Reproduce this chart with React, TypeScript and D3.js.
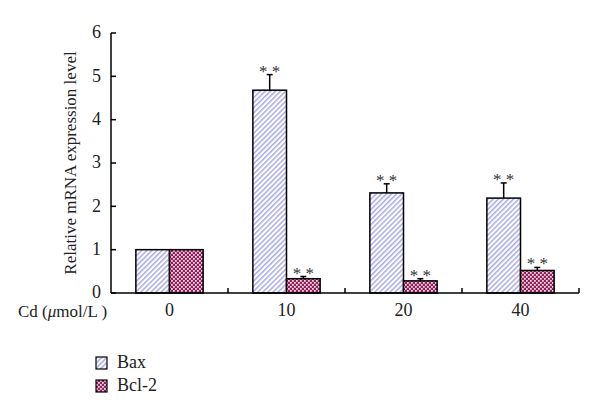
import React from 'react';
import * as d3 from 'd3';

const doses = ['0', '10', '20', '40'];
const series = ['Bax', 'Bcl-2'];
const baxValues = [1.0, 4.68, 2.31, 2.19];
const baxErrors = [0, 0.36, 0.21, 0.35];
const bcl2Values = [1.0, 0.33, 0.28, 0.52];
const bcl2Errors = [0, 0.05, 0.05, 0.07];
const baxStars = [false, true, true, true];
const bcl2Stars = [false, true, true, true];
const yTicks = [0, 1, 2, 3, 4, 5, 6];

const font = '"Liberation Serif", "DejaVu Serif", serif';

function App() {
    const margin = { top: 33, left: 111, right: 21, bottom: 127 };
    const width = 600;
    const height = 420;

    const x = d3
        .scaleBand()
        .domain(doses)
        .range([margin.left, width - margin.right])
        .padding(0);

    const bw = x.bandwidth();
    const pair = bw * 0.575;

    const sub = d3
        .scaleBand()
        .domain(series)
        .range([(bw - pair) / 2, (bw + pair) / 2])
        .padding(0);

    const y = d3
        .scaleLinear()
        .domain([0, 6])
        .range([height - margin.bottom, margin.top]);

    const fills = { 'Bax': 'url(#hatchBax)', 'Bcl-2': 'url(#checkBcl)' };

    const rows = doses.map((d, i) => ({
        dose: d,
        bars: [
            { key: 'Bax', v: baxValues[i], e: baxErrors[i], star: baxStars[i] },
            { key: 'Bcl-2', v: bcl2Values[i], e: bcl2Errors[i], star: bcl2Stars[i] },
        ],
    }));

    const y0 = y(0);

    return (
        <svg width={width} height={height}
            style={{ position: 'absolute', left: 0, top: 0, background: '#fff' }}
            fontFamily={font}>
            <defs>
                <pattern id="hatchBax" width="3.6" height="3.6" patternUnits="userSpaceOnUse"
                    patternTransform="rotate(45)">
                    <rect width="3.6" height="3.6" fill="#fff" />
                    <line x1="0.8" y1="0" x2="0.8" y2="3.6" stroke="#9c9ce4" strokeWidth="1.3" />
                </pattern>
                <pattern id="checkBcl" width="4" height="4" patternUnits="userSpaceOnUse">
                    <rect width="4" height="4" fill="#8e1f57" />
                    <rect x="0" y="0" width="1.8" height="1.8" fill="#f4d0e2" />
                    <rect x="2" y="2" width="1.8" height="1.8" fill="#f4d0e2" />
                </pattern>
            </defs>

            {/* bars */}
            {rows.map(r => (
                <g key={r.dose} transform={`translate(${x(r.dose)},0)`}>
                    {r.bars.map(b => {
                        const bx = sub(b.key);
                        const cx = bx + sub.bandwidth() / 2;
                        const top = y(b.v);
                        const errTop = y(b.v + b.e);
                        return (
                            <g key={b.key}>
                                <rect x={bx} y={top} width={sub.bandwidth()} height={y0 - top}
                                    fill={fills[b.key]} stroke="#000" strokeWidth="1.5" />
                                {b.e > 0 && (
                                    <g stroke="#000" strokeWidth="1.5">
                                        <line x1={cx} x2={cx} y1={top} y2={errTop} />
                                        <line x1={cx - 3} x2={cx + 3} y1={errTop} y2={errTop} />
                                    </g>
                                )}
                                {b.star && (
                                    <text x={cx} y={errTop + 2} textAnchor="middle" fontSize="17"
                                        fill="#333">* *</text>
                                )}
                            </g>
                        );
                    })}
                </g>
            ))}

            {/* axes */}
            <g stroke="#000" strokeWidth="1.5" fill="none">
                <line x1={margin.left} x2={margin.left} y1={y(6)} y2={y0} />
                <line x1={margin.left} x2={width - margin.right} y1={y0} y2={y0} />
                {yTicks.map(t => (
                    <line key={t} x1={margin.left} x2={margin.left + 5} y1={y(t)} y2={y(t)} />
                ))}
                {doses.map(d => (
                    <line key={d} x1={x(d) + bw} x2={x(d) + bw} y1={y0} y2={y0 - 5} />
                ))}
            </g>

            {yTicks.map(t => (
                <text key={t} x={margin.left - 10} y={y(t)} dy="0.3em" textAnchor="end"
                    fontSize="18" fill="#222">{t}</text>
            ))}

            {doses.map(d => (
                <text key={d} x={x(d) + bw / 2} y={y0 + 23} textAnchor="middle"
                    fontSize="18" fill="#222">{d}</text>
            ))}

            <text x={18} y={y0 + 24} fontSize="17" fill="#222">
                Cd (<tspan fontStyle="italic">μ</tspan>mol/L )
            </text>

            <text transform={`translate(76,${(y(6) + y0) / 2}) rotate(-90)`} textAnchor="middle"
                fontSize="17" fill="#222">Relative mRNA expression level</text>

            {/* legend */}
            {series.map((s, i) => (
                <g key={s} transform={`translate(96,${357 + i * 23})`}>
                    <rect width="11" height="12" fill={fills[s]} stroke="#000" strokeWidth="1.2" />
                    <text x="21" y="11" fontSize="18" fill="#222">{s}</text>
                </g>
            ))}
        </svg>
    );
}

export default App;
